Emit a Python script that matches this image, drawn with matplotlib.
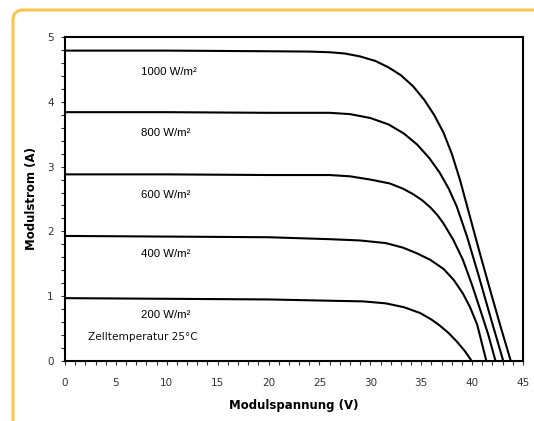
import matplotlib
matplotlib.use("Agg")
import matplotlib.pyplot as plt
from matplotlib.patches import FancyBboxPatch
from matplotlib.ticker import MultipleLocator
from matplotlib.transforms import IdentityTransform

# Data (voltage V, current A)
v_1000 = [0, 10, 20, 24, 26, 27.5, 29, 30.5, 31.8, 33, 34.2, 35.3, 36.3, 37.2, 38, 38.8, 39.8, 40.8, 41.8, 42.8, 43.8]
i_1000 = [4.79, 4.79, 4.78, 4.775, 4.765, 4.745, 4.70, 4.63, 4.53, 4.41, 4.24, 4.03, 3.79, 3.52, 3.20, 2.80, 2.22, 1.64, 1.08, 0.53, 0]

v_800 = [0, 10, 20, 26, 28, 30, 31.8, 33.3, 34.6, 35.8, 36.8, 37.7, 38.5, 39.5, 40.6, 41.8, 43.06]
i_800 = [3.84, 3.84, 3.83, 3.83, 3.81, 3.75, 3.65, 3.51, 3.34, 3.13, 2.91, 2.66, 2.38, 1.92, 1.34, 0.68, 0]

v_600 = [0, 10, 20, 26, 28, 30, 31.9, 33.2, 34.2, 35.1, 35.9, 36.6, 37.2, 38.15, 39.1, 40, 40.8, 41.6, 42.3]
i_600 = [2.88, 2.88, 2.87, 2.87, 2.85, 2.80, 2.74, 2.66, 2.575, 2.48, 2.37, 2.25, 2.12, 1.87, 1.56, 1.17, 0.79, 0.40, 0]

v_400 = [0, 10, 20, 26, 29, 31.5, 33.2, 34.6, 35.9, 37.2, 38.2, 39.1, 39.8, 40.5, 41.4]
i_400 = [1.93, 1.92, 1.91, 1.88, 1.86, 1.82, 1.75, 1.66, 1.56, 1.42, 1.25, 1.04, 0.83, 0.56, 0]

v_200 = [0, 10, 20, 26, 29.3, 31.5, 33.3, 34.9, 36, 36.8, 37.7, 38.5, 39.3, 39.96]
i_200 = [0.97, 0.96, 0.95, 0.93, 0.92, 0.89, 0.83, 0.74, 0.64, 0.55, 0.43, 0.30, 0.15, 0]

series = [(v_1000, i_1000), (v_800, i_800), (v_600, i_600), (v_400, i_400), (v_200, i_200)]
labels = ["1000 W/m\u00b2", "800 W/m\u00b2", "600 W/m\u00b2", "400 W/m\u00b2", "200 W/m\u00b2"]
label_y = [4.46, 3.52, 2.56, 1.65, 0.71]
x_ticks = [0, 5, 10, 15, 20, 25, 30, 35, 40, 45]
y_ticks = [0, 1, 2, 3, 4, 5]

W, H = 534, 421
fig = plt.figure(figsize=(W / 100, H / 100), dpi=100)

# yellow rounded frame (pixel coordinates)
frame = FancyBboxPatch((13, -30), 560, H - 10 + 30,
                       boxstyle="round,pad=0,rounding_size=10",
                       transform=IdentityTransform(), fill=False,
                       edgecolor="#F6C64E", linewidth=2.2, clip_on=False)
fig.patches.append(frame)

ax = fig.add_axes([65 / W, (H - 361) / H, (523 - 65) / W, (361 - 37) / H])

for v, i in series:
    ax.plot(v, i, color="black", lw=1.5, solid_joinstyle="round", solid_capstyle="butt")

for lab, y in zip(labels, label_y):
    ax.text(7.5, y, lab, fontsize=8.2, family="Liberation Sans", va="center", ha="left")

ax.text(2.3, 0.37, "Zelltemperatur 25\u00b0C", fontsize=7.6, family="DejaVu Sans",
        va="center", ha="left", color="#111111")

ax.set_xlim(0, 45)
ax.set_ylim(0, 5)
ax.set_xticks(x_ticks)
ax.set_yticks(y_ticks)
ax.xaxis.set_minor_locator(MultipleLocator(1))
ax.yaxis.set_minor_locator(MultipleLocator(0.2))
ax.tick_params(axis="both", which="both", direction="out", length=3, width=0.8,
               labelsize=7.5, color="#333333", labelcolor="#333333")
ax.tick_params(axis="x", which="major", pad=9)
ax.tick_params(axis="y", which="major", pad=5)

for s in ax.spines.values():
    s.set_linewidth(1.5)

ax.set_xlabel("Modulspannung (V)", fontsize=8.5, fontweight="bold", labelpad=8)
ax.set_ylabel("Modulstrom (A)", fontsize=8.5, fontweight="bold", labelpad=7)

fig.savefig("out.png", dpi=100)
